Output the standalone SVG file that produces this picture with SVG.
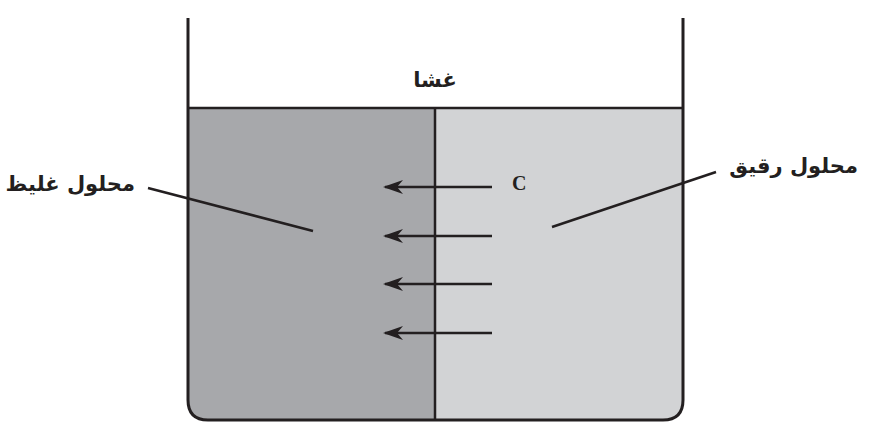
<svg xmlns="http://www.w3.org/2000/svg" width="872" height="436" viewBox="0 0 872 436">
<defs>
<style>
.wall{fill:none;stroke:#231f20;stroke-width:3;stroke-linejoin:round}
.ln{stroke:#231f20;stroke-width:2.5;fill:none}
.lbl{font-family:"DejaVu Sans","Noto Sans",sans-serif;font-weight:bold;font-size:21px;fill:#231f20}
</style>
<marker id="ah" markerWidth="22" markerHeight="16" refX="18" refY="7" orient="auto" markerUnits="userSpaceOnUse">
<path d="M0,0 L20,7 L0,14 L6,7 Z" fill="#231f20"/>
</marker>
</defs>
<rect width="872" height="436" fill="#fff"/>
<g id="container">
<path d="M188,108 H435 V420 H208 Q188,420 188,400 Z" fill="#a7a8ab"/>
<path d="M435,108 H683 V400 Q683,420 663,420 H435 Z" fill="#d2d3d5"/>
<path class="wall" d="M188,18 V400 Q188,420 208,420 H663 Q683,420 683,400 V18"/>
<line class="ln" x1="188" y1="108" x2="683" y2="108"/>
<line class="ln" x1="435" y1="108" x2="435" y2="420"/>
</g>
<g id="connectors">
<line class="ln" x1="492" y1="187" x2="385" y2="187" marker-end="url(#ah)"/>
<line class="ln" x1="492" y1="236" x2="385" y2="236" marker-end="url(#ah)"/>
<line class="ln" x1="492" y1="284" x2="385" y2="284" marker-end="url(#ah)"/>
<line class="ln" x1="492" y1="333" x2="385" y2="333" marker-end="url(#ah)"/>
<line class="ln" x1="148" y1="188" x2="313" y2="231"/>
<line class="ln" x1="716" y1="172" x2="552" y2="227"/>
</g>
<g id="label-membrane"><text class="lbl" x="435" y="87" text-anchor="middle" direction="rtl">غشا</text></g>
<g id="label-concentrated"><text class="lbl" x="135" y="191" text-anchor="start" direction="rtl">محلول غليظ</text></g>
<g id="label-dilute"><text class="lbl" x="858" y="173" text-anchor="start" direction="rtl">محلول رقيق</text></g>
<g id="label-c"><text x="512" y="190" font-family="Liberation Serif,serif" font-weight="bold" font-size="20" fill="#231f20">C</text></g>
</svg>
